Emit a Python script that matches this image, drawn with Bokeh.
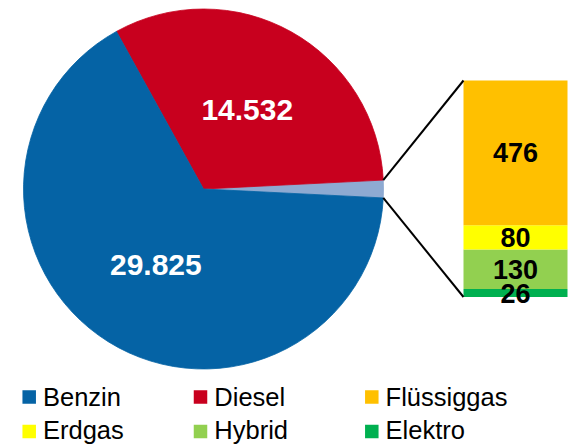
import numpy as np
from bokeh.plotting import figure
from bokeh.models import Range1d, ColumnDataSource
from bokeh.embed import file_html
from bokeh.resources import INLINE
from bokeh.core.properties import value

# ---------------- data ----------------
pie_names = ["Benzin", "Diesel"]
pie_values = [29825, 14532]
bar_names = ["Elektro", "Hybrid", "Erdgas", "Flüssiggas"]   # bottom -> top
bar_values = [26, 130, 80, 476]
legend_names = ["Benzin", "Diesel", "Flüssiggas", "Erdgas", "Hybrid", "Elektro"]

colors = {
    "Benzin": "#0563a5",
    "Diesel": "#c8001e",
    "Sonstige": "#8eaad2",
    "Flüssiggas": "#ffc000",
    "Erdgas": "#ffff00",
    "Hybrid": "#92d050",
    "Elektro": "#00b050",
}

def fmt(v):
    return f"{v:,}".replace(",", ".")

# ---------------- layout ----------------
W, H = 568, 444
def Y(py):
    return H - py

CX, CY, R = 203, Y(188.5), 180
BAR_L, BAR_R = 463, 567
BAR_BOT, BAR_TOP = Y(296.5), Y(80)

other_total = sum(bar_values)
all_vals = [other_total] + [pie_values[1], pie_values[0]]   # anticlockwise: other, Diesel, Benzin
all_names = ["Sonstige", "Diesel", "Benzin"]
total = sum(all_vals)
angles = np.array(all_vals) / total * 2 * np.pi
start0 = -angles[0] / 2
starts = start0 + np.concatenate([[0], np.cumsum(angles)[:-1]])
ends = starts + angles

p = figure(width=W, height=H, output_backend="svg", toolbar_location=None,
           x_range=Range1d(0, W), y_range=Range1d(0, H),
           x_axis_type=None, y_axis_type=None, min_border=0)
p.outline_line_color = None
p.grid.visible = False
p.background_fill_color = "white"
p.border_fill_color = "white"

# bar range: value -> data coords
k = (BAR_TOP - BAR_BOT) / other_total
p.extra_y_ranges = {"bar": Range1d((0 - BAR_BOT) / k, (H - BAR_BOT) / k)}

pie_src = ColumnDataSource(dict(
    start=starts, end=ends, color=[colors[n] for n in all_names]))
p.wedge(x=CX, y=CY, radius=R, start_angle="start", end_angle="end",
        fill_color="color", line_color="color", line_width=0.8, source=pie_src)

# pie labels (Diesel, Benzin)
mids = (starts + ends) / 2
lab_x = [CX + 0.5 * R * np.cos(mids[i]) for i in (1, 2)]
lab_y = [CY + 0.5 * R * np.sin(mids[i]) for i in (1, 2)]
lab_t = [fmt(all_vals[i]) for i in (1, 2)]
p.text(x=lab_x, y=lab_y, text=lab_t, text_color="white",
       text_font=value("Liberation Sans"), text_font_style="bold",
       text_font_size="30px", text_align="center", text_baseline="middle")

# stacked bar
bottoms = np.concatenate([[0], np.cumsum(bar_values)[:-1]])
tops = np.cumsum(bar_values)
bar_src = ColumnDataSource(dict(
    bottom=bottoms, top=tops, mid=(bottoms + tops) / 2,
    color=[colors[n] for n in bar_names], label=[str(v) for v in bar_values]))
p.vbar(x=(BAR_L + BAR_R) / 2, width=BAR_R - BAR_L, bottom="bottom", top="top",
       fill_color="color", line_color=None, source=bar_src, y_range_name="bar")
p.text(x=(BAR_L + BAR_R) / 2, y="mid", text="label", source=bar_src,
       y_range_name="bar", text_color="black",
       text_font=value("Liberation Sans"), text_font_style="bold",
       text_font_size="27px", text_align="center", text_baseline="middle")

# connector lines
a = angles[0] / 2
p.segment(x0=[CX + R * np.cos(a), CX + R * np.cos(-a)],
          y0=[CY + R * np.sin(a), CY + R * np.sin(-a)],
          x1=[BAR_L, BAR_L], y1=[BAR_TOP, BAR_BOT],
          line_color="black", line_width=2)

# legend
lx = [28.7 + 171.3 * (i % 3) for i in range(len(legend_names))]
ly = [Y(396) if i < 3 else Y(429) for i in range(len(legend_names))]
p.scatter(x=lx, y=[Y(396.5) if i < 3 else Y(431) for i in range(len(legend_names))],
          marker="square", size=13.5,
          fill_color=[colors[n] for n in legend_names], line_color=None)
p.text(x=[x + 13.8 for x in lx], y=ly, text=legend_names, text_color="black",
       text_font=value("Liberation Sans"), text_font_size="25.5px",
       text_align="left", text_baseline="middle")

open("out.html", "w").write(file_html(p, INLINE))
